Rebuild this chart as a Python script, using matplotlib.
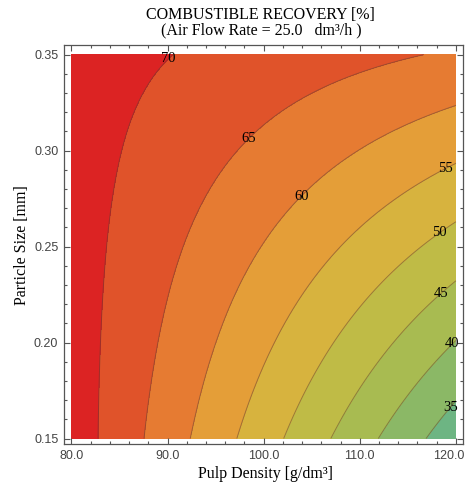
import matplotlib
matplotlib.use("Agg")
import matplotlib.pyplot as plt
import matplotlib.transforms as mtransforms
from matplotlib.colors import ListedColormap, BoundaryNorm
from matplotlib.ticker import MultipleLocator, FormatStrFormatter
import numpy as np

# --- response surface (coded units) ---
# u = (pulp density - 100) / 20,  v = (particle size - 0.25) / 0.1
coef_names = ["b0", "u", "v", "u2", "uv", "v2"]
coef_values = [59.835, -12.219, 7.976, 0.270, 8.290, 0.271]

pulp_range = [80.0, 120.0]
size_range = [0.15, 0.35]

levels = [35, 40, 45, 50, 55, 60, 65, 70]
band_colors = ["#6db583", "#8bb866", "#a8bb51", "#bfbb46", "#d7b33e",
               "#e49e38", "#e67b32", "#e0532a", "#dc2323"]

# spots the contour labels sit near (one per level)
label_spots = [(119.2, 0.167), (119.5, 0.200), (118.4, 0.226), (118.3, 0.257),
               (119.0, 0.290), (104.2, 0.275), (98.75, 0.305), (89.7, 0.350)]

def recovery(x, y):
    u = (x - 100) / 20
    v = (y - 0.25) / 0.1
    b = dict(zip(coef_names, coef_values))
    return (b["b0"] + b["u"] * u + b["v"] * v + b["u2"] * u**2
            + b["uv"] * u * v + b["v2"] * v**2)

x = np.linspace(pulp_range[0], pulp_range[1], 400)
y = np.linspace(size_range[0], size_range[1], 400)
X, Y = np.meshgrid(x, y)
Z = recovery(X, Y)

serif = "Liberation Serif"
sans = "Liberation Sans"

fig = plt.figure(figsize=(4.7, 4.84), dpi=100)
ax = fig.add_axes([0.136, 0.0826, 0.849, 0.824])

bounds = [0] + levels + [100]
cmap = ListedColormap(band_colors)
norm = BoundaryNorm(bounds, cmap.N)
ax.contourf(X, Y, Z, levels=bounds, cmap=cmap, norm=norm)
cs = ax.contour(X, Y, Z, levels=levels, colors="#5a4030", linewidths=0.7, alpha=0.5)
texts = ax.clabel(cs, levels, inline=False, fmt="%d", manual=label_spots,
                  colors="black")
for t in texts:
    t.set_rotation(0)
    t.set_family(serif)
    t.set_fontsize(10.5)
    t.set_alpha(1)

ax.set_xlim(79.22, 120.73)
ax.set_ylim(0.14714, 0.35495)

# --- Rahmen & Ticks (Mathematica-Look) ---
for s in ax.spines.values():
    s.set_color("#555555")
    s.set_linewidth(0.9)
ax.xaxis.set_major_locator(MultipleLocator(10))
ax.xaxis.set_minor_locator(MultipleLocator(2))
ax.yaxis.set_major_locator(MultipleLocator(0.05))
ax.yaxis.set_minor_locator(MultipleLocator(0.01))
ax.xaxis.set_major_formatter(FormatStrFormatter("%.1f"))
ax.yaxis.set_major_formatter(FormatStrFormatter("%.2f"))
ax.tick_params(which="both", direction="in", top=True, right=True,
               color="#555555", width=0.8, labelcolor="#444444", labelsize=9)
ax.tick_params(which="major", length=4.5, pad=4)
ax.tick_params(which="minor", length=2.5)

ax.set_xlabel("Pulp Density [g/dm³]", family=serif, fontsize=11.5)
ax.set_ylabel("Particle Size [mm]", family=serif, fontsize=11.5)
ax.xaxis.label.set_va("center")
ax.yaxis.label.set_va("center")
ax.xaxis.set_label_coords(0.504, -0.075)
ax.yaxis.set_label_coords(-0.105, 0.5)

fig.text(0.555, 0.969, "COMBUSTIBLE RECOVERY [%]", family=serif, fontsize=11.5,
         ha="center", va="center")
fig.text(0.555, 0.937, "(Air Flow Rate = 25.0   dm³/h )", family=serif, fontsize=11.5,
         ha="center", va="center")

# Schrift der Tick-Labels + letztes x-Label etwas nach links (bleibt im Bild)
fig.canvas.draw()
for lab in ax.get_xticklabels() + ax.get_yticklabels():
    lab.set_family(sans)
last = [lab for lab in ax.get_xticklabels() if lab.get_text() == "120.0"]
if last:
    shift = mtransforms.ScaledTranslation(-7 / 100, 0, fig.dpi_scale_trans)
    last[0].set_transform(last[0].get_transform() + shift)

fig.savefig("out.png")
